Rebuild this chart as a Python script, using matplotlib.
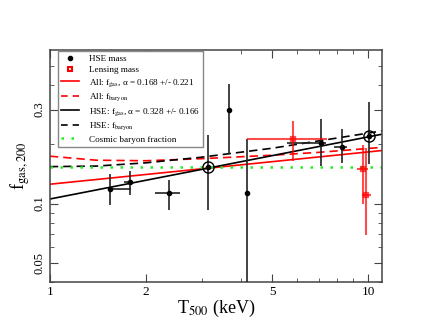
import matplotlib
matplotlib.use("Agg")
import matplotlib.pyplot as plt
import numpy as np

plt.rcParams['font.family'] = ['Liberation Serif', 'DejaVu Serif']
plt.rcParams['mathtext.fontset'] = 'stix'

# HSE mass points
hse_T = [1.54, 1.78, 2.37, 3.15, 3.66, 4.17, 7.10, 8.27, 10.07]
hse_f = [0.119, 0.129, 0.113, 0.153, 0.300, 0.113, 0.202, 0.193, 0.221]
hse_f_hi = [0.141, 0.146, 0.132, 0.222, 0.404, 0.213, 0.270, 0.240, 0.328]
hse_f_lo = [0.098, 0.111, 0.093, 0.093, 0.179, 0.030, 0.155, 0.161, 0.158]
hse_T_lo = [1.54, 1.71, 2.14, 3.15, 3.66, 4.17, 5.55, 7.81, 10.07]
hse_T_hi = [1.80, 1.81, 2.56, 3.15, 3.66, 4.17, 7.40, 8.60, 10.07]
circled_T = [3.15, 10.07]
circled_f = [0.153, 0.221]

# lensing mass points
lens_T = [5.80, 9.63, 9.86]
lens_f = [0.213, 0.149, 0.111]
lens_f_hi = [0.263, 0.198, 0.191]
lens_f_lo = [0.164, 0.099, 0.069]
lens_T_lo = [4.17, 9.23, 9.60]
lens_T_hi = [7.41, 10.0, 10.2]

# fitted curves
fit_T = [1.0, 11.1]
all_gas = [0.1254, 0.186]
hse_gas = [0.1055, 0.2252]
curve_T = [1.0, 1.4, 2.0, 3.0, 5.0, 7.0, 11.1]
all_baryon = [0.174, 0.166, 0.165, 0.169, 0.176, 0.182, 0.193]
hse_baryon = [0.154, 0.155, 0.161, 0.172, 0.191, 0.208, 0.234]
cosmic_f = 0.154

fig = plt.figure(figsize=(4.3, 3.32), dpi=100)
ax = fig.add_axes([0.116, 0.1506, 0.772, 0.698])

def errs(v, lo, hi):
    v = np.array(v); return [v - np.array(lo), np.array(hi) - v]

ax.errorbar(hse_T, hse_f, yerr=errs(hse_f, hse_f_lo, hse_f_hi),
            xerr=errs(hse_T, hse_T_lo, hse_T_hi), fmt='o', color='black',
            ms=3, ecolor='#222222', elinewidth=1.2, capsize=0, zorder=3)
ax.plot(circled_T, circled_f, 'o', mfc='none', mec='black', ms=8, mew=1.0, zorder=4)
ax.errorbar(lens_T, lens_f, yerr=errs(lens_f, lens_f_lo, lens_f_hi),
            xerr=errs(lens_T, lens_T_lo, lens_T_hi), fmt='s', color='red',
            mfc='none', ms=3.5, mew=1.6, elinewidth=1.5, capsize=0, alpha=0.7, zorder=3)

ax.plot(fit_T, all_gas, color='red', lw=1.2, zorder=2)
ax.plot(curve_T, all_baryon, color='red', lw=1.2, ls=(0, (5, 3)), zorder=2)
ax.plot(fit_T, hse_gas, color='black', lw=1.2, zorder=2)
ax.plot(curve_T, hse_baryon, color='black', lw=1.2, ls=(0, (5, 3)), zorder=2)
ax.axhline(cosmic_f, color='#22ee22', lw=1.8, ls=(0, (1, 3)), zorder=2)

ax.set_xscale('log')
ax.set_yscale('log')
ax.set_xlim(1, 11.05)
ax.set_ylim(0.04, 0.6)

ax.set_xticks([1, 2, 5, 10])
ax.set_xticklabels(['1', '2', '5', '10'])
ax.set_xticks([3, 4, 6, 7, 8, 9], minor=True)
ax.set_xticklabels([], minor=True)
ax.set_yticks([0.05, 0.1, 0.3])
ax.set_yticklabels(['0.05', '0.1', '0.3'], rotation=90, va='center')
ax.set_yticks([0.04, 0.06, 0.07, 0.08, 0.09, 0.2, 0.4, 0.5], minor=True)
ax.set_yticklabels([], minor=True)
ax.tick_params(which='both', direction='in', top=True, right=True, color='#444444')
ax.tick_params(which='major', length=6, labelsize=9.5, pad=3)
ax.tick_params(which='minor', length=3)
ax.tick_params(axis='y', labelsize=9, pad=3)
for s in ax.spines.values():
    s.set_color('#444444')
    s.set_linewidth(1.1)

ax.set_xlabel(r'T$_{\rm 500}$ (keV)', fontsize=13, labelpad=0)
ax.set_ylabel(r'f$_{\rm gas,200}$', fontsize=13, labelpad=1)

h1, = ax.plot([], [], 'o', color='black', ms=3)
h2, = ax.plot([], [], 's', mfc='none', mec='red', ms=3.5, mew=1.5)
h3, = ax.plot([], [], color='red', lw=1.2)
h4, = ax.plot([], [], color='red', lw=1.2, ls=(0, (4, 3)))
h5, = ax.plot([], [], color='black', lw=1.2)
h6, = ax.plot([], [], color='black', lw=1.2, ls=(0, (4, 3)))
h7, = ax.plot([], [], color='#22ee22', lw=1.8, ls=(0, (1, 3)))
labels = ['HSE mass', 'Lensing mass',
          r'All: f$_{\rm gas}$, α = 0.168 +/- 0.221', r'All: f$_{\rm baryon}$',
          r'HSE: f$_{\rm gas}$, α = 0.328 +/- 0.166', r'HSE: f$_{\rm baryon}$',
          'Cosmic baryon fraction']
leg = ax.legend([h1, h2, h3, h4, h5, h6, h7], labels, loc='upper left',
                bbox_to_anchor=(0.024, 0.995), fontsize=6.6, frameon=True,
                fancybox=False, edgecolor='#888888', framealpha=1,
                handlelength=2.0, handletextpad=1.0, labelspacing=0.3,
                borderpad=0.35, borderaxespad=0)
leg.get_frame().set_linewidth(1.0)

fig.savefig('out.png', dpi=100)
